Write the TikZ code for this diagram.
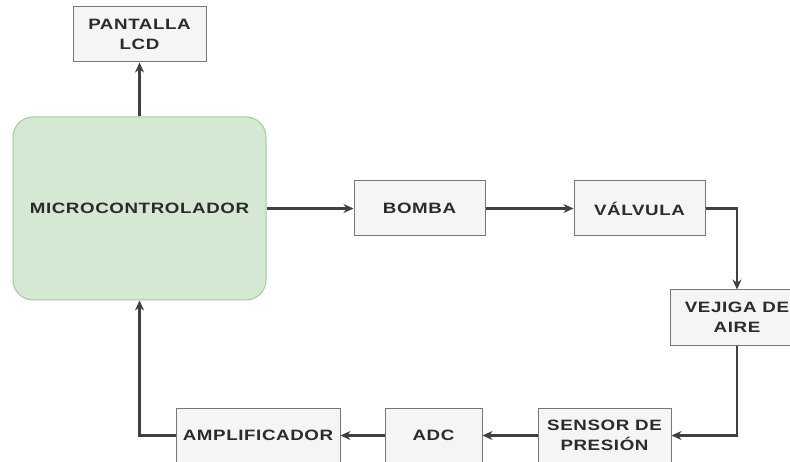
\documentclass[tikz,border=0pt]{standalone}
\usepackage{fontspec}
\setmainfont{Liberation Sans}[FakeStretch=1.25,LetterSpace=4]
\usepackage{xcolor}
\usepackage{tikz}
\usetikzlibrary{arrows.meta, positioning}
\definecolor{boxfill}{HTML}{F5F5F5}
\definecolor{boxline}{HTML}{777777}
\definecolor{mcufill}{HTML}{D5E8D4}
\definecolor{mculine}{HTML}{A9C7A3}
\definecolor{inkgray}{HTML}{2B2B2B}
\tikzstyle{block} = [rectangle, minimum width=133pt, minimum height=55pt, inner sep=0pt, align=center, text=inkgray, font=\fontsize{15}{20}\selectfont\bfseries, draw=boxline, line width=1pt, fill=boxfill]
\tikzstyle{mcu} = [block, rounded corners=20pt, minimum width=253pt, minimum height=183pt, draw=mculine, fill=mcufill]
\tikzstyle{arrow} = [line width=2.2pt, draw=inkgray!90, -{Stealth[length=10pt,width=9pt]}]

\begin{document}
\begin{tikzpicture}[x=1pt,y=1pt]
  \useasboundingbox (0,0) rectangle (790,461);

  % Controller and display
  \node (micro) [mcu] at (139.5,252.5) {MICROCONTROLADOR};
  \node (lcd) [block, above=54pt of micro] {PANTALLA\\LCD};

  % Air path
  \node (bomba) [block, minimum width=131pt, right=87pt of micro] {BOMBA};
  \node (valvula) [block, minimum width=131pt, right=88pt of bomba] {VÁLVULA};
  \node (vejiga) [block, minimum width=134pt] at (737,143.5) {VEJIGA DE\\AIRE};

  % Measurement path
  \node (sensor) [block] at (604.5,25.5) {SENSOR DE\\PRESIÓN};
  \node (adc) [block, minimum width=97pt, left=55pt of sensor] {ADC};
  \node (ampli) [block, minimum width=164pt, left=44pt of adc] {AMPLIFICADOR};

  % Arrows
  \draw[arrow] (micro.north) -- (lcd.south);
  \draw[arrow] (micro.east) -- (bomba.west);
  \draw[arrow] (bomba.east) -- (valvula.west);
  \draw[arrow] (valvula.east) -| (vejiga.north);
  \draw[arrow] (vejiga.south) |- (sensor.east);
  \draw[arrow] (sensor.west) -- (adc.east);
  \draw[arrow] (adc.west) -- (ampli.east);
  \draw[arrow] (ampli.west) -| (micro.south);
\end{tikzpicture}
\end{document}
